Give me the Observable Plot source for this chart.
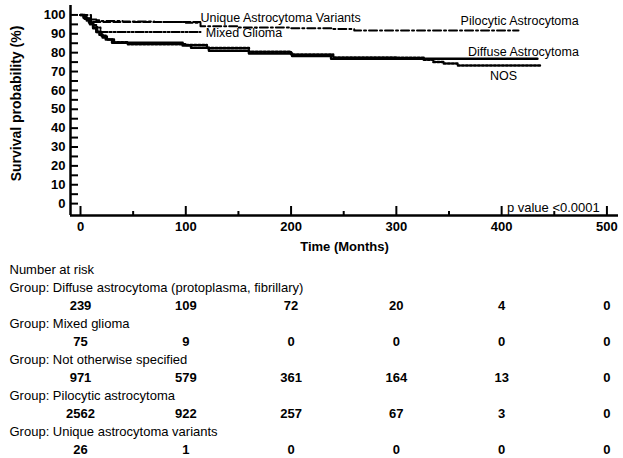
<!DOCTYPE html>
<html>
<head>
<meta charset="utf-8">
<script src="https://cdn.jsdelivr.net/npm/d3@7"></script>
<script src="https://cdn.jsdelivr.net/npm/@observablehq/plot@0.6"></script>
<style>
  html, body { margin: 0; padding: 0; background: #fff; }
  #chart svg { display: block; }
</style>
</head>
<body>
<div id="chart"></div>
<script>
// ---- Survival curves (time in months, survival %) ----
const diffuseT = [0, 3, 6, 9, 12, 15, 18, 21, 24, 30, 97, 105, 122, 160, 201, 238, 434];
const diffuseS = [100, 98.5, 97, 95, 93, 91, 89.5, 88, 87, 85.3, 83.8, 82.6, 81, 79.5, 78.2, 76.8, 76.8];

const nosT = [0, 4, 8, 12, 16, 20, 25, 32, 45, 100, 120, 160, 200, 240, 300, 326, 335, 345, 358, 438];
const nosS = [100, 98, 96, 93.5, 91, 89, 87, 85.5, 84.5, 84, 82.5, 80.5, 79, 77.5, 77.3, 76.3, 75, 74.2, 73.2, 73.2];

const pilocyticT = [0, 3, 6, 10, 15, 20, 40, 70, 100, 114, 150, 200, 240, 260, 416];
const pilocyticS = [100, 99, 98.3, 97.6, 97.2, 96.8, 96.5, 96.2, 95.8, 94, 93.3, 93, 92.5, 91.8, 91.8];

const uniqueT = [0, 10, 114];
const uniqueS = [100, 96.2, 96.2];

const mixedT = [0, 3, 6, 9, 12, 15, 19, 114];
const mixedS = [100, 98.7, 97.3, 96, 94.7, 93.3, 91, 91];

// ---- Axis ticks ----
const xMajorTicks = [0, 100, 200, 300, 400, 500];
const xMinorTicks = [50, 150, 250, 350, 450];
const yLabelTicks = [0, 10, 20, 30, 40, 50, 60, 70, 80, 90, 100];
const yAllTicks = [0, 5, 10, 15, 20, 25, 30, 35, 40, 45, 50, 55, 60, 65, 70, 75, 80, 85, 90, 95, 100];

// ---- Number at risk table ----
const riskTimes = [0, 100, 200, 300, 400, 500];
const groupNames = [
  "Diffuse astrocytoma (protoplasma, fibrillary)",
  "Mixed glioma",
  "Not otherwise specified",
  "Pilocytic astrocytoma",
  "Unique astrocytoma variants"
];
const riskDiffuse = [239, 109, 72, 20, 4, 0];
const riskMixed = [75, 9, 0, 0, 0, 0];
const riskNOS = [971, 579, 361, 164, 13, 0];
const riskPilocytic = [2562, 922, 257, 67, 3, 0];
const riskUnique = [26, 1, 0, 0, 0, 0];

// ---- Curve labels (annotation anchors in data units) ----
const curveLabels = [
  {t: 114, s: 98.4, text: "Unique Astrocytoma Variants"},
  {t: 119, s: 90.2, text: "Mixed Glioma"},
  {t: 361, s: 96.8, text: "Pilocytic Astrocytoma"},
  {t: 368, s: 80.5, text: "Diffuse Astrocytoma"},
  {t: 389, s: 67.9, text: "NOS"}
];
const pValueLabel = {t: 405, s: -2.1, text: "p value <0.0001"};

const FONT = "'Liberation Sans', Arial, Helvetica, sans-serif";
const xDomain = [-9.5, 511];
const yDomain = [-6.3, 105];

const zip = (T, S) => T.map((t, i) => ({t, s: S[i]}));

const chart = Plot.plot({
  width: 623,
  height: 258,
  marginLeft: 70,
  marginRight: 5,
  marginTop: 5,
  marginBottom: 43,
  x: {domain: xDomain},
  y: {domain: yDomain},
  style: {fontFamily: FONT, fontSize: "13px", color: "black", background: "white", overflow: "visible"},
  marks: [
    // axis lines
    Plot.ruleX([xDomain[0]], {stroke: "black", strokeWidth: 2.5}),
    Plot.ruleY([yDomain[0]], {stroke: "black", strokeWidth: 2.5}),
    // y ticks (inward) and labels
    Plot.axisY({ticks: yAllTicks, tickSize: -8, strokeWidth: 2, text: null, label: null}),
    Plot.axisY({ticks: yLabelTicks, tickSize: 0, tickPadding: 5, fontWeight: "bold", fontSize: 13, label: null}),
    // x ticks (inward) and labels
    Plot.axisX({ticks: xMajorTicks, tickSize: -9, strokeWidth: 2, text: null, label: null}),
    Plot.axisX({ticks: xMinorTicks, tickSize: -4, strokeWidth: 2, text: null, label: null}),
    Plot.axisX({ticks: xMajorTicks, tickSize: 0, tickPadding: 6, fontWeight: "bold", fontSize: 13, label: null}),
    // axis titles
    Plot.text(["Time (Months)"], {frameAnchor: "bottom", textAnchor: "middle", dy: 35, fontWeight: "bold", fontSize: 13}),
    Plot.text(["Survival probability (%)"], {frameAnchor: "left", textAnchor: "middle", rotate: -90, dx: -54, dy: -7, fontWeight: "bold", fontSize: 14}),
    // curves
    Plot.line(zip(pilocyticT, pilocyticS), {x: "t", y: "s", curve: "step-after", stroke: "black", strokeWidth: 2, strokeDasharray: "8,3,2,3"}),
    Plot.line(zip(uniqueT, uniqueS), {x: "t", y: "s", curve: "step-after", stroke: "black", strokeWidth: 2, strokeDasharray: "7,3"}),
    Plot.line(zip(mixedT, mixedS), {x: "t", y: "s", curve: "step-after", stroke: "black", strokeWidth: 2, strokeDasharray: "8,2,2,2,2,2"}),
    Plot.line(zip(nosT, nosS), {x: "t", y: "s", curve: "step-after", stroke: "black", strokeWidth: 2.5, strokeDasharray: "2,2"}),
    Plot.line(zip(diffuseT, diffuseS), {x: "t", y: "s", curve: "step-after", stroke: "black", strokeWidth: 2.5}),
    // labels
    Plot.text(curveLabels, {x: "t", y: "s", text: "text", textAnchor: "start", fontSize: 12.5, fill: "black"}),
    Plot.text([pValueLabel], {x: "t", y: "s", text: "text", textAnchor: "start", fontSize: 13, fill: "black"})
  ]
});

// ---- risk table plot ----
const riskSeries = [riskDiffuse, riskMixed, riskNOS, riskPilocytic, riskUnique];
const rowKeys = ["header"];
const labelRows = [{row: "header", label: "Number at risk"}];
const numberRows = [];
groupNames.forEach((g, i) => {
  rowKeys.push("g" + i, "n" + i);
  labelRows.push({row: "g" + i, label: "Group: " + g});
  riskTimes.forEach((t, j) => numberRows.push({row: "n" + i, t, n: String(riskSeries[i][j])}));
});

const table = Plot.plot({
  width: 623,
  height: 200,
  marginLeft: 70,
  marginRight: 5,
  marginTop: 10,
  marginBottom: 8,
  x: {domain: xDomain, axis: null},
  y: {type: "point", domain: rowKeys, padding: 0, axis: null},
  style: {fontFamily: FONT, fontSize: "13px", color: "black", background: "white"},
  marks: [
    Plot.text(labelRows, {y: "row", text: "label", frameAnchor: "left", textAnchor: "start", dx: -61, fontSize: 13}),
    Plot.text(numberRows, {x: "t", y: "row", text: "n", fontWeight: "bold", fontSize: 13})
  ]
});

const host = document.getElementById("chart");
host.appendChild(chart);
host.appendChild(table);
</script>
</body>
</html>
